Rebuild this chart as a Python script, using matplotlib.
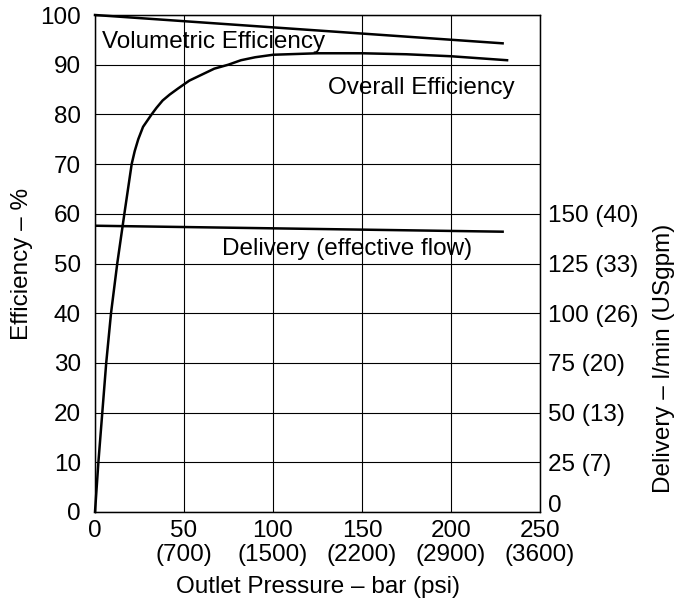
import matplotlib
matplotlib.use("Agg")
import matplotlib.pyplot as plt

plt.rcParams["font.family"] = ["Liberation Sans", "DejaVu Sans"]
FS = 17.5

# curves (pressure in bar)
vol_p = [0, 229]
vol_eff = [100, 94.3]

overall_p = [0, 1.9, 4.1, 6.3, 9, 12.5, 16.5, 20.6, 22.3, 24.3, 27, 31.8, 34.5,
             38, 42, 46.6, 53, 60, 67, 74.9, 82, 90, 100, 125, 150, 175, 200, 231.5]
overall_eff = [0, 10, 20, 30, 40, 50, 60, 70, 72.6, 75, 77.5, 80, 81.3,
               82.8, 84, 85.2, 86.8, 88, 89.2, 90, 90.9, 91.5, 92, 92.3, 92.3, 92.1, 91.7, 90.9]

deliv_p = [0, 229]
deliv_lmin = [144, 141]

x_ticks = [0, 50, 100, 150, 200, 250]
x_labels = ["0", "50\n(700)", "100\n(1500)", "150\n(2200)", "200\n(2900)", "250\n(3600)"]
left_ticks = [0, 10, 20, 30, 40, 50, 60, 70, 80, 90, 100]
right_ticks = [0, 25, 50, 75, 100, 125, 150]
right_labels = ["0", "25 (7)", "50 (13)", "75 (20)", "100 (26)", "125 (33)", "150 (40)"]

fig = plt.figure(figsize=(6.85, 6.05), dpi=100)
ax = fig.add_axes([95/685, 1 - 512/605, 445/685, 497/605])
ax.set_xlim(0, 250); ax.set_ylim(0, 100)
ax.set_xticks(x_ticks); ax.set_xticklabels(x_labels, linespacing=1.1)
ax.set_yticks(left_ticks)
ax.grid(True, color="black", lw=0.8)
ax.tick_params(axis="y", length=0, labelsize=FS, pad=10)
ax.tick_params(axis="x", length=0, labelsize=FS, pad=6)
for s in ax.spines.values():
    s.set_linewidth(1.0)

ax.plot(vol_p, vol_eff, color="black", lw=1.8, clip_on=False)
ax.plot(overall_p, overall_eff, color="black", lw=1.8, clip_on=False)

ax2 = ax.twinx()
ax2.set_ylim(0, 250)
ax2.set_yticks(right_ticks); ax2.set_yticklabels(right_labels)
ax2.tick_params(length=0, labelsize=FS, pad=6)
ax2.get_yticklabels()[0].set_va("baseline")
ax2.plot(deliv_p, deliv_lmin, color="black", lw=1.8)

ax.text(3.8, 94.6, "Volumetric Efficiency", fontsize=FS, va="center", ha="left")
ax.text(131, 85.3, "Overall Efficiency", fontsize=FS, va="center", ha="left")
ax.text(71.3, 52.9, "Delivery (effective flow)", fontsize=FS, va="center", ha="left")

ax.set_xlabel("Outlet Pressure – bar (psi)", fontsize=FS, labelpad=7)
ax.set_ylabel("Efficiency – %", fontsize=FS, labelpad=5)
ax2.set_ylabel("Delivery – l/min (USgpm)", fontsize=FS)
ax2.yaxis.set_label_coords(1.254, 0.31)

fig.savefig("out.png", dpi=100)
